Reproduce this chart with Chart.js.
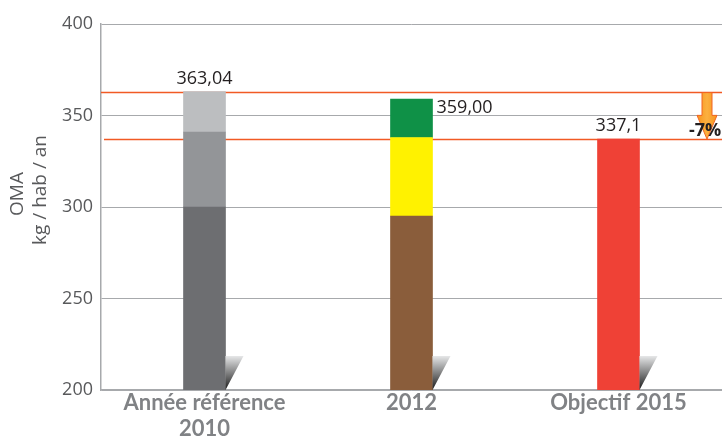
<!DOCTYPE html>
<html>
<head>
<meta charset="utf-8">
<script src="https://cdn.jsdelivr.net/npm/chart.js@4"></script>
<style>
  html, body { margin: 0; padding: 0; background: #fff; }
  #wrap { width: 722px; height: 438px; }
</style>
</head>
<body>
<div id="wrap"><canvas id="omaChart"></canvas></div>
<script>
const categories = [["Année référence", "2010"], "2012", "Objectif 2015"];
const bottomLevel = [300, 295, 337.1];
const middleLevel = [341, 338, null];
const topLevel = [363.04, 359, null];
const valueLabels = ["363,04", "359,00", "337,1"];
const yTicks = [200, 250, 300, 350, 400];
const refLines = [363.04, 337.1];
const reductionLabel = "-7%";
const yTitle = ["OMA", "kg / hab / an"];

const axisMin = yTicks[0];

const refLinesPlugin = {
    id: "refLines",
    beforeDatasetsDraw(chart) {
        const { ctx, chartArea, scales } = chart;
        ctx.save();
        ctx.strokeStyle = "#f15a24";
        ctx.lineWidth = 1.5;
        refLines.forEach(function (v, i) {
            const y = Math.round(scales.y.getPixelForValue(v)) + 0.5;
            ctx.beginPath();
            ctx.moveTo(chartArea.left + (i === 0 ? 0 : 3), y);
            ctx.lineTo(chartArea.right, y);
            ctx.stroke();
        });
        ctx.restore();
    },
    afterDatasetsDraw(chart) {
        const { ctx, chartArea, scales } = chart;
        const meta = chart.getDatasetMeta(0);
        ctx.save();

        // little shadow wedges next to each bar
        meta.data.forEach(function (bar) {
            const right = bar.x + bar.width / 2;
            const bottom = chartArea.bottom;
            const top = bottom - 34;
            const g = ctx.createLinearGradient(right, top, right, bottom);
            g.addColorStop(0, "#e6e7e8");
            g.addColorStop(1, "#1a1a1a");
            ctx.fillStyle = g;
            ctx.beginPath();
            ctx.moveTo(right, top);
            ctx.lineTo(right + 18, top);
            ctx.lineTo(right, bottom);
            ctx.closePath();
            ctx.fill();
        });

        // value labels
        ctx.fillStyle = "#231f20";
        ctx.font = "18px 'Open Sans'";
        ctx.textBaseline = "middle";
        meta.data.forEach(function (bar, i) {
            const topVal = topLevel[i] !== null ? topLevel[i] : bottomLevel[i];
            const yTop = scales.y.getPixelForValue(topVal);
            if (i === 1) {
                ctx.textAlign = "left";
                ctx.fillText(valueLabels[i], bar.x + bar.width / 2 + 4, yTop + 9);
            } else {
                ctx.textAlign = "center";
                ctx.fillText(valueLabels[i], bar.x, yTop - 13);
            }
        });

        // arrow between the two reference lines
        const y1 = scales.y.getPixelForValue(refLines[0]);
        const y2 = scales.y.getPixelForValue(refLines[1]);
        const ax = chartArea.right - 15;
        const headStart = y1 + (y2 - y1) * 0.5;
        const ag = ctx.createLinearGradient(ax - 10, 0, ax + 10, 0);
        ag.addColorStop(0, "#f7941d");
        ag.addColorStop(0.5, "#fbb040");
        ag.addColorStop(1, "#f7941d");
        ctx.fillStyle = ag;
        ctx.strokeStyle = "#f26522";
        ctx.lineWidth = 1;
        ctx.beginPath();
        ctx.moveTo(ax - 5, y1 + 1);
        ctx.lineTo(ax + 5, y1 + 1);
        ctx.lineTo(ax + 5, headStart);
        ctx.lineTo(ax + 10, headStart);
        ctx.lineTo(ax, y2);
        ctx.lineTo(ax - 10, headStart);
        ctx.lineTo(ax - 5, headStart);
        ctx.closePath();
        ctx.fill();
        ctx.stroke();

        ctx.fillStyle = "#231f20";
        ctx.font = "bold 18px 'Open Sans'";
        ctx.textAlign = "left";
        ctx.fillText(reductionLabel, ax - 18, y2 - 8);

        // rotated y-axis title
        ctx.fillStyle = "#58595b";
        ctx.font = "19px 'Open Sans'";
        ctx.textAlign = "center";
        ctx.textBaseline = "middle";
        ctx.translate(18, 194);
        ctx.rotate(-Math.PI / 2);
        ctx.fillText(yTitle[0], 0, 0);
        ctx.fillText(yTitle[1], 4, 23);

        ctx.restore();
    },
};

new Chart(document.getElementById("omaChart"), {
    type: "bar",
    data: {
        labels: categories,
        datasets: [
            {
                label: "base",
                data: bottomLevel.map(function (v) { return [axisMin, v]; }),
                backgroundColor: ["#6d6e71", "#8a5d3b", "#ef4136"],
            },
            {
                label: "milieu",
                data: middleLevel.map(function (v, i) { return v === null ? null : [bottomLevel[i], v]; }),
                backgroundColor: ["#939598", "#fff200", "#ef4136"],
            },
            {
                label: "haut",
                data: topLevel.map(function (v, i) { return v === null ? null : [middleLevel[i], v]; }),
                backgroundColor: ["#bcbec0", "#0f9147", "#ef4136"],
            },
        ],
    },
    options: {
        responsive: true,
        maintainAspectRatio: false,
        animation: false,
        layout: { padding: { top: 24, right: 0, left: 0, bottom: 0 } },
        datasets: {
            bar: { grouped: false, barThickness: 42, borderWidth: 0 },
        },
        plugins: {
            legend: { display: false },
            tooltip: { enabled: false },
        },
        scales: {
            x: {
                grid: { display: false, drawTicks: false },
                border: { display: true, color: "#a7a9ac", width: 1.5 },
                ticks: {
                    color: "#808285",
                    font: { family: "Lato", size: 22, weight: "bold", lineHeight: 1.18 },
                    padding: 0,
                    maxRotation: 0,
                },
                afterFit(scale) { scale.height = 48; },
            },
            y: {
                min: axisMin,
                max: yTicks[yTicks.length - 1],
                afterBuildTicks(scale) {
                    scale.ticks = yTicks.map(function (v) { return { value: v }; });
                },
                grid: { color: "#a7a9ac", lineWidth: 1, drawTicks: false },
                border: { display: true, color: "#a7a9ac", width: 1.5 },
                ticks: {
                    color: "#58595b",
                    font: { family: "'Open Sans'", size: 18 },
                    padding: 8,
                },
                afterFit(scale) { scale.width = 101; },
            },
        },
    },
    plugins: [refLinesPlugin],
});
</script>
</body>
</html>
